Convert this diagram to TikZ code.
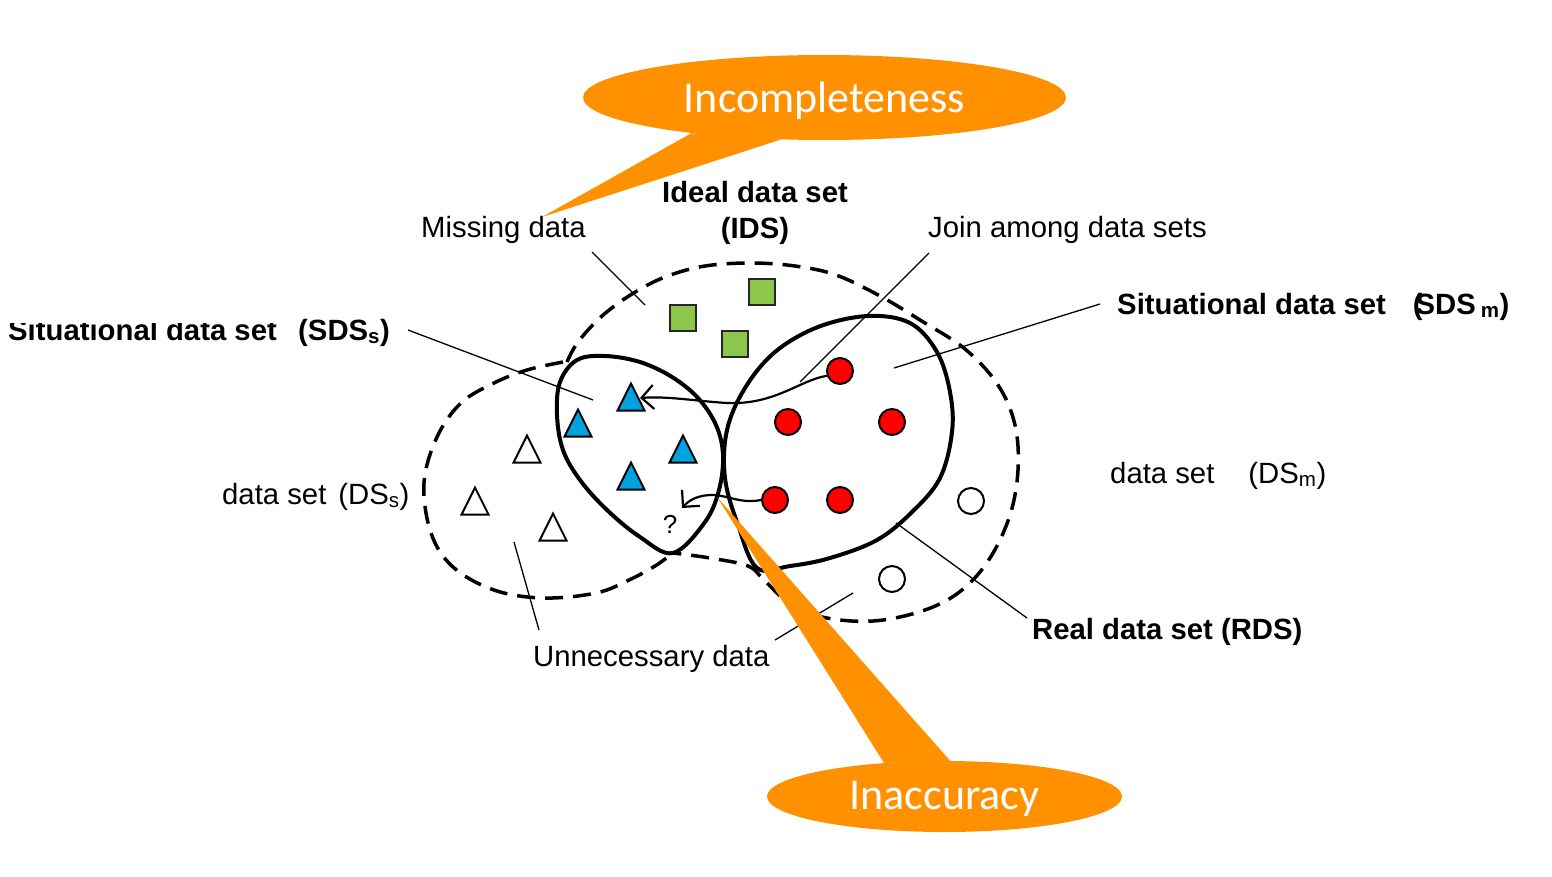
\documentclass[tikz,border=0pt]{standalone}
\usepackage{fontspec}
\setmainfont{Liberation Sans}
\newfontfamily\calloutfont{Carlito}
\usetikzlibrary{arrows.meta,shapes.geometric}
\definecolor{callorange}{RGB}{255,145,0}
\definecolor{sqgreen}{RGB}{140,198,74}
\definecolor{triblue}{RGB}{0,163,224}

\begin{document}
\begin{tikzpicture}[x=1pt,y=-1pt,>={Straight Barb[length=12pt,width=24pt]},
  lbl/.style={anchor=base west,inner sep=0pt,font=\fontsize{29.3}{36}\selectfont},
  blbl/.style={lbl,font=\fontsize{29.3}{36}\selectfont\bfseries},
  dashedset/.style={line width=3.5pt,dash pattern=on 18pt off 10pt},
  solidset/.style={line width=4pt},
  pointer/.style={line width=1.3pt},
  moveline/.style={->,line width=2.2pt},
  greensq/.style={draw=black!85,fill=sqgreen,line width=2pt,minimum size=26pt,inner sep=0pt},
  redpt/.style={circle,draw,fill=red,line width=2pt,minimum size=26pt,inner sep=0pt},
  openpt/.style={circle,draw,fill=white,line width=2pt,minimum size=26pt,inner sep=0pt},
  tri/.style={draw,line width=2pt,line join=miter},
  callout/.style={ellipse,fill=callorange,inner sep=0pt,text=white,font=\calloutfont\fontsize{44}{50}\selectfont}]
\useasboundingbox (0,0) rectangle (1552,876);

% dashed data sets (IDS, DSs)
\draw[dashedset] plot[smooth,tension=0.6] coordinates {(567,362) (578,342) (602,316) (632,294) (665,277) (705,266) (751,263) (795,266) (836,275) (880,296) (920,320) (965,349) (998,385) (1015,425) (1018,470) (1010,515) (990,558) (962,590) (925,610) (873,621) (822,617) (788,602) (764,580) (748,566) (710,558) (673,553)};
\draw[dashedset] plot[smooth,tension=0.6] coordinates {(563,362) (527,370) (494,383) (461,403) (437,437) (424,483) (431,533) (453,567) (494,590) (543,598) (596,593) (629,580) (655,566) (673,553)};

% situational data sets (SDSs, SDSm)
\draw[solidset] plot[smooth cycle,tension=0.6] coordinates {(557,415) (560,382) (577,360) (605,356) (640,362) (672,377) (698,398) (716,425) (723,455) (719,490) (705,522) (673,553) (640,537) (607,510) (580,480) (563,450)};
\draw[solidset] plot[smooth cycle,tension=0.6] coordinates {(757,568) (738,525) (725,478) (727,430) (745,388) (775,352) (818,327) (868,316) (910,323) (937,352) (950,392) (952,432) (940,478) (912,512) (877,540) (830,558) (790,566)};

% data items
\foreach \n/\x/\y in {1/683/318,2/762/292,3/735/344}{ \node[greensq] (sq\n) at (\x,\y) {}; }
\foreach \n/\x/\y in {1/840/371,2/788/422,3/892/422,4/775/500,5/840/500}{ \node[redpt] (r\n) at (\x,\y) {}; }
\foreach \n/\x/\y in {1/971/501,2/892/579}{ \node[openpt] (w\n) at (\x,\y) {}; }
\foreach \x/\y in {631/397,578/423,683/449,631/476}{ \draw[tri,fill=triblue] (\x,\y-13.5) -- (\x+13.5,\y+13.5) -- (\x-13.5,\y+13.5) -- cycle; }
\foreach \x/\y in {527/449,475/501,553/527}{ \draw[tri,fill=white] (\x,\y-13.5) -- (\x+13.5,\y+13.5) -- (\x-13.5,\y+13.5) -- cycle; }

% moves between sets
\coordinate (tipA) at (640,398);
\coordinate (tipB) at (682,508);
\draw[moveline] (r1.200) .. controls (800,380) and (775,405) .. (727,403) .. controls (695,401) and (668,396) .. (tipA);
\draw[moveline] (r4.west) .. controls (740,504) and (728,495) .. (712,495) .. controls (700,495) and (690,499) .. (tipB);

% pointer lines
\coordinate (missA) at (592,252);   \coordinate (missB) at (645,305);
\coordinate (joinA) at (929,253);   \coordinate (joinB) at (800,382);
\coordinate (sdssA) at (408,330);   \coordinate (sdssB) at (593,400);
\coordinate (sdsmA) at (1100,304);  \coordinate (sdsmB) at (894,368);
\coordinate (rdsA) at (1027,618);   \coordinate (rdsB) at (896,523);
\coordinate (unA) at (539,630);     \coordinate (unB) at (514,542);
\coordinate (unC) at (775,640);     \coordinate (unD) at (853,593);
\draw[pointer] (missA) -- (missB);
\draw[pointer] (joinA) -- (joinB);
\draw[pointer] (sdssA) -- (sdssB);
\draw[pointer] (sdsmA) -- (sdsmB);
\draw[pointer] (rdsA) -- (rdsB);
\draw[pointer] (unA) -- (unB);
\draw[pointer] (unC) -- (unD);

% labels
\node[lbl] (missing) at (421,237) {Missing data};
\node[lbl] (join) at (928,237) {Join among data sets};
\node[blbl,anchor=base] (ideal) at (755,202) {Ideal data set};
\node[blbl,anchor=base] (ids) at (755,238.5) {(IDS)};
\node[blbl] (sdsm) at (1117,314) {Situational data set\hspace{27pt}(\kern-7pt SDS\hspace{5pt}\textsubscript{m})};
\begin{scope}
\clip (0,323) rectangle (292,360);
\node[blbl] (sdss) at (8,340) {Situational data set};
\end{scope}
\node[blbl] (sdssabbr) at (298,340) {(SDS\textsubscript{s})};
\node[lbl] (dss) at (222,504) {data set\hspace{12pt}(DS\textsubscript{s})};
\node[lbl] (dsm) at (1110,483) {data set\hspace{34pt}(DS\textsubscript{m})};
\node[blbl] (rds) at (1032,639) {Real data set (RDS)};
\node[lbl] (unnec) at (533,666) {Unnecessary data};
\node[inner sep=0pt,anchor=base,font=\fontsize{26}{30}\selectfont] (qmark) at (670,533) {?};

% callouts
\coordinate (incompTip) at (542,217);
\coordinate (inaccTip) at (717,497);
\node[callout,minimum width=483pt,minimum height=85pt,text height=31pt,text depth=2pt] (incomp) at (824.5,97.5) {Incompleteness};
\fill[callorange] (incomp.195) -- (incompTip) -- (incomp.224) -- cycle;
\node[callout,minimum width=355pt,minimum height=71pt,text height=27pt,text depth=2pt] (inacc) at (944.5,796.5) {Inaccuracy};
\fill[callorange] (inacc.151) -- (inaccTip) -- (inacc.81) -- cycle;
\end{tikzpicture}
\end{document}
